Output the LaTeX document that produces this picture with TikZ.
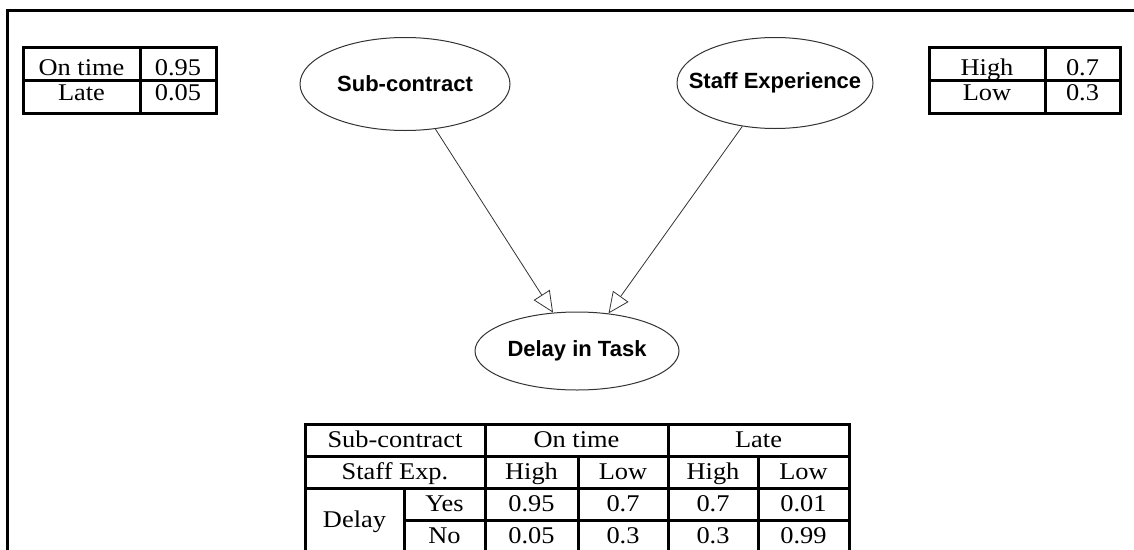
\documentclass[tikz,border=0pt]{standalone}
\usepackage{fontspec}
\setmainfont[FakeStretch=1.1]{Liberation Serif}
\setsansfont{Liberation Sans}
\usetikzlibrary{shapes.geometric,arrows.meta}
\tikzset{
    bayesnet/.style={
        x=1pt, y=-1pt,
        % Stile per le variabili (ellisse)
        bnvar/.style={draw=black!80, ellipse, fill=white,
                      line width=1pt, inner sep=0pt,
                      font=\sffamily\bfseries\fontsize{22}{24}\selectfont},
        % Stile per gli archi
        dependency/.style={draw=black!80, line width=0.8pt,
                           -{Triangle[open, length=21pt, width=19pt]}},
        % Stile per le celle delle tabelle
        tcell/.style={draw, rectangle, line width=3pt, inner sep=0pt,
                      text height=15.5pt, text depth=0pt,
                      font=\fontsize{24}{27}\selectfont}
    }
}
% testo del nodo senza allargare l'ellisse
\newcommand{\vartext}[1]{\makebox[0pt]{#1}}
% cella: [opzioni] nome, x1, y1, x2, y2, testo
\newcommand{\tabcell}[7][]{%
    \node[tcell, #1, minimum width={#5-#3}, minimum height={#6-#4}]
        (#2) at ({(#3+#5)/2}, {(#4+#6)/2}) {#7};}

\begin{document}
\begin{tikzpicture}[bayesnet]
    \useasboundingbox (0,0) rectangle (1134,549);
    \clip (0,0) rectangle (1134,549);
    \draw[line width=3pt] (7.5,560) -- (7.5,10.5) -- (1140,10.5);

    % variabili
    \node[bnvar, minimum width=210pt, minimum height=93pt] (sub) at (405,84)
        {\vartext{Sub-contract}};
    \node[bnvar, minimum width=196pt, minimum height=91pt] (staff) at (775,83)
        {\vartext{Staff Experience}};
    \node[bnvar, minimum width=204pt, minimum height=78pt] (delay) at (577,351)
        {\vartext{Delay in Task}};

    \draw[dependency] (sub.-56) -- (delay.122);
    \draw[dependency] (staff.-127) -- (delay.50);

    % P(Sub-contract)
    \tabcell[text height=24pt]{subOn}{23}{47}{140}{80}{On time}
    \tabcell[text height=24pt]{subOnP}{140}{47}{216}{80}{0.95}
    \tabcell[text depth=7pt]{subLate}{23}{80}{140}{113}{Late}
    \tabcell[text depth=7pt]{subLateP}{140}{80}{216}{113}{0.05}

    % P(Staff Experience)
    \tabcell[text height=24pt]{expHigh}{929}{47}{1045}{80}{High}
    \tabcell[text height=24pt]{expHighP}{1045}{47}{1120}{80}{0.7}
    \tabcell[text depth=7pt]{expLow}{929}{80}{1045}{113}{Low}
    \tabcell[text depth=7pt]{expLowP}{1045}{80}{1120}{113}{0.3}

    % P(Delay | Sub-contract, Staff Experience)
    \tabcell{hSub}{305}{424}{485}{456}{Sub-contract}
    \tabcell{hOn}{485}{424}{668}{456}{On time}
    \tabcell{hLate}{668}{424}{849}{456}{Late}
    \tabcell{hExp}{305}{456}{485}{488}{Staff Exp.}
    \tabcell{hDelay}{305}{488}{404}{552}{Delay}
    \tabcell{hYes}{404}{488}{485}{520}{Yes}
    \tabcell{hNo}{404}{520}{485}{552}{No}
    \foreach \xa/\xb/\lev/\pyes/\pno [count=\i] in
        {485/578/High/0.95/0.05, 578/668/Low/0.7/0.3,
         668/758/High/0.7/0.3, 758/849/Low/0.01/0.99}{
        \tabcell{lev\i}{\xa}{456}{\xb}{488}{\lev}
        \tabcell{yes\i}{\xa}{488}{\xb}{520}{\pyes}
        \tabcell{no\i}{\xa}{520}{\xb}{552}{\pno}
    }
\end{tikzpicture}
\end{document}
